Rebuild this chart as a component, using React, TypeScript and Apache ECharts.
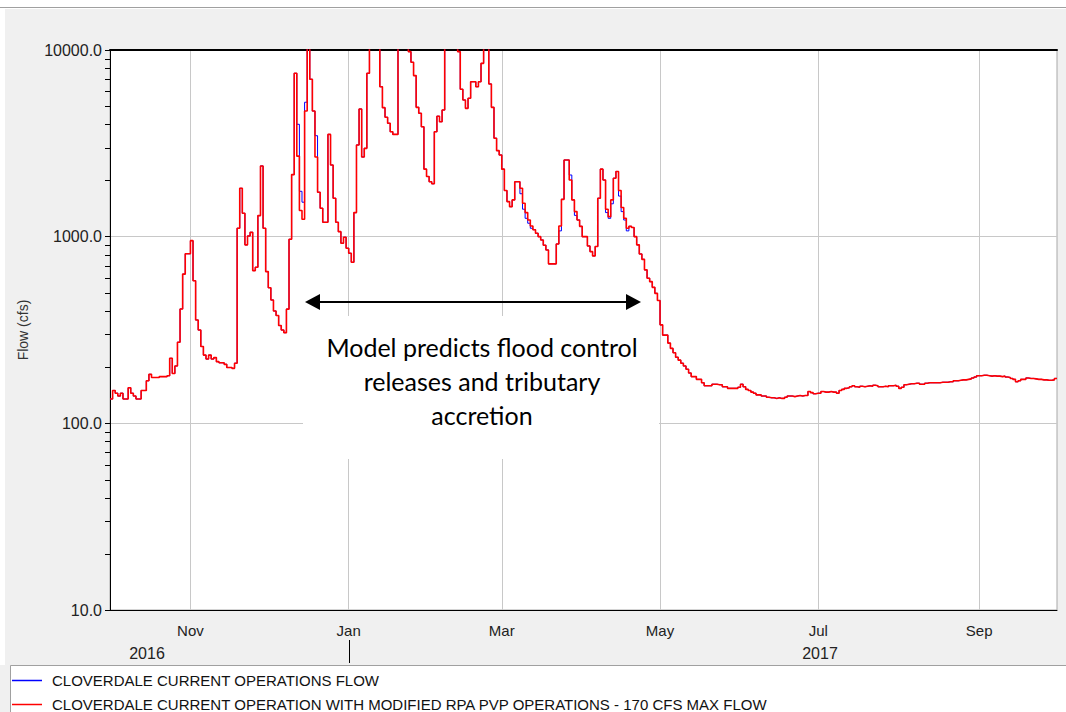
import React, { useEffect, useRef } from 'react';
import * as echarts from 'echarts';

// Daily flow (cfs), water year 1 Oct 2016 – 30 Sep 2017.
// Off-scale days (line pinned to the 10000 border) are entered as 12000.
const oct2016 = [135, 150, 145, 140, 145, 135, 135, 155, 145, 140, 135, 135, 150, 150, 169, 183, 176, 176, 176, 178, 178, 178, 180, 223, 185, 203, 272, 410, 630, 810, 810];
const nov2016 = [952, 581, 358, 316, 258, 232, 221, 232, 221, 225, 214, 211, 211, 207, 199, 199, 197, 210, 1109, 1816, 1334, 904, 1009, 1055, 658, 686, 1297, 2393, 1109, 650];
const dec2016 = [533, 458, 400, 378, 334, 316, 306, 409, 968, 2150, 7500, 2700, 1380, 1239, 4710, 12000, 6970, 4710, 2673, 1730, 1420, 1194, 1194, 3530, 2420, 1607, 1194, 1064, 922, 993, 867];
const jan2017 = [815, 729, 1346, 3100, 4830, 2673, 2973, 7500, 12000, 12000, 12000, 12000, 6360, 4910, 4360, 4050, 3650, 3530, 3530, 12000, 12000, 12000, 12000, 9800, 8590, 7290, 4930, 4580, 3880, 2300, 2100];
const feb2017 = [1970, 1920, 3650, 4420, 4130, 4770, 12000, 12000, 12000, 12000, 12000, 9800, 6160, 5400, 4870, 5510, 6760, 6760, 6360, 6760, 8480, 12000, 12000, 6580, 4930, 3370, 2890, 2740];
const mar2017 = [2300, 1766, 1541, 1448, 1574, 1970, 1970, 1816, 1510, 1346, 1228, 1140, 1090, 1043, 1000, 960, 900, 849, 715, 715, 715, 914, 1140, 1585, 2575, 2575, 2011, 1574, 1362, 1228, 1136];
const apr2017 = [1000, 1000, 892, 832, 789, 886, 1607, 2300, 2011, 1403, 1280, 1574, 2057, 2235, 1766, 1432, 1254, 1109, 1136, 1120, 1000, 904, 808, 756, 664, 599, 574, 535, 497, 455];
const may2017 = [337, 297, 297, 269, 252, 239, 226, 218, 210, 203, 195, 186, 178, 178, 172, 172, 165, 159, 159, 159, 162, 162, 161, 161, 157, 157, 154, 154, 154, 154, 156];
const jun2017 = [162, 157, 152, 150, 147, 145, 142, 142, 140, 140, 138, 137, 137, 136, 137, 136, 136, 138, 140, 140, 139, 140, 141, 140, 141, 141, 148, 146, 144, 145];
const jul2017 = [145, 148, 147, 147, 148, 147, 147, 145, 150, 152, 154, 155, 157, 159, 157, 156, 158, 157, 158, 159, 158, 160, 159, 157, 157, 158, 157, 159, 159, 160, 158];
const aug2017 = [154, 156, 161, 162, 163, 163, 164, 164, 162, 162, 164, 165, 165, 165, 165, 165, 166, 166, 166, 167, 167, 169, 169, 170, 171, 171, 172, 173, 175, 177, 180];
const sep2017 = [180, 181, 181, 180, 179, 180, 179, 179, 178, 179, 177, 176, 174, 172, 167, 169, 172, 172, 175, 174, 174, 173, 172, 172, 171, 171, 170, 170, 171, 174];

// Days (offset from 1 Oct 2016) where the current-operations (blue) flow differs from the red one
const currentOpsDiffs: [number, number][] = [
  [72, 4000], [73, 1750], [74, 1530], [75, 5250], [79, 3475],
  [158, 1698], [159, 1403], [160, 1254], [161, 1180], [162, 1109],
  [173, 1074], [177, 2140], [179, 1300],
  [191, 1346], [192, 1254], [193, 1500], [196, 1650], [197, 1362], [198, 1228], [199, 1074],
];

const seriesNames = [
  'CLOVERDALE CURRENT OPERATIONS FLOW',
  'CLOVERDALE CURRENT OPERATION WITH MODIFIED RPA PVP OPERATIONS - 170 CFS MAX FLOW',
];
const monthTickDates: [number, number][] = [[2016, 10], [2017, 0], [2017, 2], [2017, 4], [2017, 6], [2017, 8]];
const monthNames = ['Jan', 'Feb', 'Mar', 'Apr', 'May', 'Jun', 'Jul', 'Aug', 'Sep', 'Oct', 'Nov', 'Dec'];
const yearLabels = ['2016', '2017'];
const minorTickValues = [20, 30, 40, 50, 60, 70, 80, 90, 200, 300, 400, 500, 600, 700, 800, 900, 2000, 3000, 4000, 5000, 6000, 7000, 8000, 9000];
const annotationLines = ['Model predicts flood control', 'releases and tributary', 'accretion'];

const START = Date.UTC(2016, 9, 1);
const END = Date.UTC(2017, 9, 1);
const DAY = 86400000;
const dayOf = (t: number) => Math.round((t - START) / DAY);

export default function App() {
  const ref = useRef<HTMLDivElement>(null);
  useEffect(() => {
    document.body.style.margin = '0';
    const el = ref.current!;
    const chart = echarts.init(el, null, { renderer: 'svg' });

    const modified = [...oct2016, ...nov2016, ...dec2016, ...jan2017, ...feb2017, ...mar2017, ...apr2017, ...may2017, ...jun2017, ...jul2017, ...aug2017, ...sep2017];
    const current = modified.slice();
    currentOpsDiffs.forEach(([d, v]) => { current[d] = v; });
    const toSeries = (arr: number[]) => {
      const out = arr.map((v, i) => [i, v]);
      out.push([arr.length, arr[arr.length - 1]]);
      return out;
    };
    const tickDays = monthTickDates.map(([y, m]) => dayOf(Date.UTC(y, m, 1)));
    const totalDays = dayOf(END);
    const font = 'Liberation Sans, Arial, sans-serif';
    const monthLabel = (d: number) => monthNames[new Date(START + Math.round(d) * DAY).getUTCMonth()];

    chart.setOption({
      animation: false,
      backgroundColor: '#f0f0f0',
      textStyle: { fontFamily: font },
      grid: { left: 110, top: 50, right: 9, bottom: 102, show: true, backgroundColor: '#ffffff', borderColor: '#a8a8a8', borderWidth: 1 },
      xAxis: [
        {
          type: 'value', min: 0, max: totalDays, position: 'bottom',
          axisLine: { show: true, onZero: false, lineStyle: { color: '#000', width: 1 } },
          axisTick: { show: false, customValues: tickDays },
          axisLabel: { customValues: tickDays, fontSize: 15, color: '#222', margin: 13, fontFamily: font, formatter: monthLabel },
          splitLine: { show: true, lineStyle: { color: '#c8c8c8', width: 1 } },
        },
        {
          type: 'value', min: 0, max: totalDays, position: 'top',
          axisLine: { show: true, onZero: false, lineStyle: { color: '#000', width: 2 } },
          axisTick: { show: false }, axisLabel: { show: false }, splitLine: { show: false },
        },
      ],
      yAxis: {
        type: 'log', logBase: 10, min: 10, max: 10000,
        axisLine: { show: true, lineStyle: { color: '#000' } },
        axisTick: { show: true, length: 5, lineStyle: { color: '#000' } },
        axisLabel: { formatter: (v: number) => Number(v).toFixed(1), fontSize: 16, color: '#222', margin: 8, fontFamily: font },
        splitLine: { show: true, lineStyle: { color: '#c8c8c8', width: 1 } },
        name: 'Flow (cfs)', nameLocation: 'middle', nameGap: 80,
        nameTextStyle: { fontSize: 14, color: '#333', fontFamily: font },
      },
      legend: {
        data: seriesNames, orient: 'vertical', left: 12, top: 673, padding: 0, itemGap: 9,
        itemWidth: 30, itemHeight: 1.5, icon: 'rect', selectedMode: false,
        textStyle: { fontSize: 15, color: '#111', fontFamily: font, padding: [0, 0, 0, 5] },
      },
      series: [
        {
          name: seriesNames[0], type: 'line', step: 'end', data: toSeries(current), symbol: 'none', showSymbol: false,
          lineStyle: { color: '#0000ff', width: 1 }, itemStyle: { color: '#0000ff' }, z: 2,
        },
        {
          name: seriesNames[1], type: 'line', step: 'end', data: toSeries(modified), symbol: 'none', showSymbol: false,
          lineStyle: { color: '#ff0000', width: 1.6 }, itemStyle: { color: '#ff0000' }, z: 3,
        },
      ],
    });

    const janX = chart.convertToPixel({ xAxisIndex: 0 }, tickDays[1]) as number;
    const axisX = chart.convertToPixel({ xAxisIndex: 0 }, 0) as number;
    const minorTicks = minorTickValues.map((v) => {
      const y = Math.round(chart.convertToPixel({ yAxisIndex: 0 }, v) as number) + 0.5;
      return { type: 'line', z: 6, shape: { x1: axisX - 5, y1: y, x2: axisX, y2: y }, style: { stroke: '#000', lineWidth: 1 } };
    });
    chart.setOption({
      graphic: [
        { type: 'rect', z: 1, shape: { x: 0, y: 0, width: 1066, height: 9 }, style: { fill: '#ffffff' } },
        { type: 'rect', z: 1, shape: { x: 0, y: 0, width: 5, height: 665 }, style: { fill: '#ffffff' } },
        { type: 'line', z: 1, shape: { x1: 0, y1: 7.5, x2: 1066, y2: 7.5 }, style: { stroke: '#a0a0a0', lineWidth: 1 } },
        { type: 'rect', z: 1, shape: { x: 10.5, y: 665.5, width: 1060, height: 60 }, style: { fill: '#ffffff', stroke: '#a0a0a0', lineWidth: 1 } },
        ...minorTicks,
        { type: 'text', z: 5, style: { x: 147, y: 653, text: yearLabels[0], fontSize: 16, fontFamily: font, fill: '#222', align: 'center', verticalAlign: 'middle' } },
        { type: 'text', z: 5, style: { x: 820, y: 653, text: yearLabels[1], fontSize: 16, fontFamily: font, fill: '#222', align: 'center', verticalAlign: 'middle' } },
        { type: 'line', z: 5, shape: { x1: Math.round(janX) + 0.5, y1: 640, x2: Math.round(janX) + 0.5, y2: 663 }, style: { stroke: '#000', lineWidth: 1 } },
        // annotation
        { type: 'rect', z: 1, shape: { x: 303, y: 316, width: 356, height: 143 }, style: { fill: '#ffffff' } },
        { type: 'line', z: 10, shape: { x1: 318, y1: 302, x2: 628, y2: 302 }, style: { stroke: '#000', lineWidth: 2 } },
        { type: 'polygon', z: 10, shape: { points: [[305, 302], [320, 294], [320, 310]] }, style: { fill: '#000' } },
        { type: 'polygon', z: 10, shape: { points: [[641, 302], [626, 294], [626, 310]] }, style: { fill: '#000' } },
        {
          type: 'text', z: 10,
          style: { x: 482, y: 330, text: annotationLines.join('\n'), fontSize: 25, lineHeight: 34, fontFamily: 'Lato, Open Sans, sans-serif', fill: '#000', align: 'center', verticalAlign: 'top' },
        },
      ],
    });

    return () => chart.dispose();
  }, []);
  return <div ref={ref} style={{ width: 1066, height: 712 }} />;
}
